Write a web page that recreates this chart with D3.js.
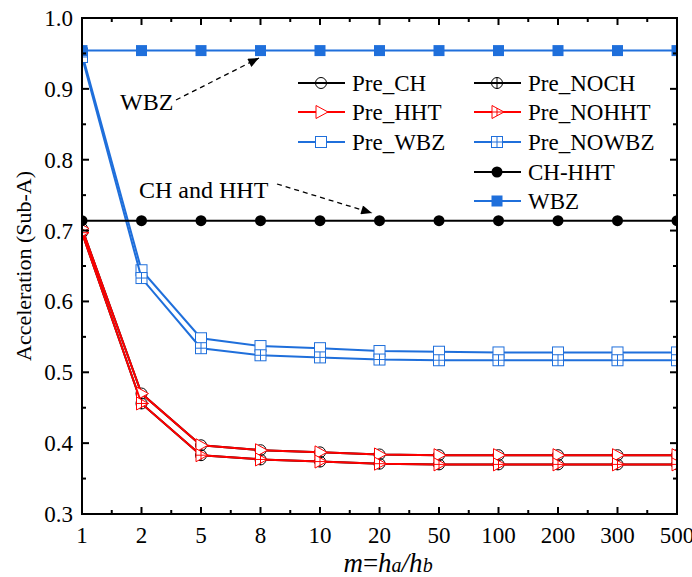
<!DOCTYPE html>
<html>
<head>
<meta charset="utf-8">
<script src="https://cdn.jsdelivr.net/npm/d3@7"></script>
<style>
  body { margin: 0; background: #fff; }
  text { font-family: "Liberation Serif", "Times New Roman", serif; }
</style>
</head>
<body>
<script>
// categories on the x axis (m = ha/hb), equally spaced
var categories = ["1", "2", "5", "8", "10", "20", "50", "100", "200", "300", "500"];

// series values
var preCH    = [0.703, 0.470, 0.397, 0.390, 0.387, 0.384, 0.383, 0.383, 0.383, 0.383, 0.383];
var preNOCH  = [0.697, 0.456, 0.383, 0.377, 0.374, 0.371, 0.370, 0.370, 0.370, 0.370, 0.370];
var preHHT   = [0.703, 0.470, 0.397, 0.390, 0.387, 0.384, 0.383, 0.383, 0.383, 0.383, 0.383];
var preNOHHT = [0.697, 0.456, 0.383, 0.377, 0.374, 0.371, 0.370, 0.370, 0.370, 0.370, 0.370];
var preWBZ   = [0.950, 0.644, 0.548, 0.537, 0.534, 0.530, 0.529, 0.528, 0.528, 0.528, 0.528];
var preNOWBZ = [0.945, 0.633, 0.534, 0.524, 0.521, 0.518, 0.517, 0.517, 0.517, 0.517, 0.517];
var chHHT    = [0.714, 0.714, 0.714, 0.714, 0.714, 0.714, 0.714, 0.714, 0.714, 0.714, 0.714];
var wbz      = [0.954, 0.954, 0.954, 0.954, 0.954, 0.954, 0.954, 0.954, 0.954, 0.954, 0.954];

var yTicks = [0.3, 0.4, 0.5, 0.6, 0.7, 0.8, 0.9, 1.0];
var yMinor = [0.35, 0.45, 0.55, 0.65, 0.75, 0.85, 0.95];

var red = "#ff0000",
    blue = "#1f6fdb",
    black = "#000000";

var width = 692, height = 577;
var pLeft = 82, pRight = 677, pTop = 18, pBottom = 514;

var svg = d3.select("body").append("svg")
    .attr("width", width)
    .attr("height", height);

var x = d3.scalePoint().domain(categories).range([pLeft, pRight]).padding(0);
var y = d3.scaleLinear().domain([0.3, 1.0]).range([pBottom, pTop]);

var defs = svg.append("defs");
defs.append("clipPath").attr("id", "plot")
    .append("rect")
    .attr("x", pLeft).attr("y", pTop)
    .attr("width", pRight - pLeft).attr("height", pBottom - pTop);

defs.append("marker")
    .attr("id", "arrow")
    .attr("viewBox", "0 0 12 10")
    .attr("refX", 12).attr("refY", 5)
    .attr("markerWidth", 13).attr("markerHeight", 9)
    .attr("markerUnits", "userSpaceOnUse")
    .attr("orient", "auto")
    .append("path")
    .attr("d", "M0,0 L12,5 L0,10 z")
    .attr("fill", black);

var plot = svg.append("g").attr("clip-path", "url(#plot)");

var line = d3.line()
    .x(function(d, i) { return x(categories[i]); })
    .y(function(d) { return y(d); });

// marker drawers
function circleOpen(g, cx, cy, color) {
    g.append("circle").attr("cx", cx).attr("cy", cy).attr("r", 5.5)
        .attr("fill", "none").attr("stroke", color).attr("stroke-width", 1);
}
function circlePlus(g, cx, cy, color) {
    circleOpen(g, cx, cy, color);
    g.append("path").attr("d", "M" + (cx - 5.5) + "," + cy + "h11M" + cx + "," + (cy - 5.5) + "v11")
        .attr("stroke", color).attr("stroke-width", 1);
}
function triOpen(g, cx, cy, color) {
    g.append("path").attr("d", "M" + (cx - 5) + "," + (cy - 6.5) + "L" + (cx + 7) + "," + cy + "L" + (cx - 5) + "," + (cy + 6.5) + "Z")
        .attr("fill", "#fff").attr("stroke", color).attr("stroke-width", 1);
}
function triPlus(g, cx, cy, color) {
    triOpen(g, cx, cy, color);
    g.append("path").attr("d", "M" + (cx - 5) + "," + cy + "h12M" + cx + "," + (cy - 4) + "v8")
        .attr("stroke", color).attr("stroke-width", 1);
}
function squareOpen(g, cx, cy, color) {
    g.append("rect").attr("x", cx - 5.5).attr("y", cy - 5.5).attr("width", 11).attr("height", 11)
        .attr("fill", "#fff").attr("stroke", color).attr("stroke-width", 1);
}
function squarePlus(g, cx, cy, color) {
    squareOpen(g, cx, cy, color);
    g.append("path").attr("d", "M" + (cx - 5.5) + "," + cy + "h11M" + cx + "," + (cy - 5.5) + "v11")
        .attr("stroke", color).attr("stroke-width", 1);
}
function circleFill(g, cx, cy, color) {
    g.append("circle").attr("cx", cx).attr("cy", cy).attr("r", 5.5).attr("fill", color);
}
function squareFill(g, cx, cy, color) {
    g.append("rect").attr("x", cx - 5.5).attr("y", cy - 5.5).attr("width", 11).attr("height", 11).attr("fill", color);
}

var series = [
    { name: "Pre_CH", values: preCH, color: black, mark: circleOpen, col: 0, row: 0 },
    { name: "Pre_NOCH", values: preNOCH, color: black, mark: circlePlus, col: 1, row: 0 },
    { name: "Pre_HHT", values: preHHT, color: red, mark: triOpen, col: 0, row: 1 },
    { name: "Pre_NOHHT", values: preNOHHT, color: red, mark: triPlus, col: 1, row: 1 },
    { name: "Pre_WBZ", values: preWBZ, color: blue, mark: squareOpen, col: 0, row: 2 },
    { name: "Pre_NOWBZ", values: preNOWBZ, color: blue, mark: squarePlus, col: 1, row: 2 },
    { name: "CH-HHT", values: chHHT, color: black, mark: circleFill, col: 1, row: 3 },
    { name: "WBZ", values: wbz, color: blue, mark: squareFill, col: 1, row: 4 }
];

series.forEach(function(s) {
    var g = plot.append("g");
    g.append("path")
        .datum(s.values)
        .attr("d", line)
        .attr("fill", "none")
        .attr("stroke", s.color)
        .attr("stroke-width", 2);
    s.values.forEach(function(v, i) {
        s.mark(g, x(categories[i]), y(v), s.color);
    });
});

// frame
svg.append("rect")
    .attr("x", pLeft).attr("y", pTop)
    .attr("width", pRight - pLeft).attr("height", pBottom - pTop)
    .attr("fill", "none").attr("stroke", black).attr("stroke-width", 2);

// ticks (inward, on all four sides)
var ticks = svg.append("g").attr("stroke", black).attr("stroke-width", 2);
var step = x.step();
categories.forEach(function(c, i) {
    var px = x(c);
    ticks.append("line").attr("x1", px).attr("x2", px).attr("y1", pBottom).attr("y2", pBottom - 7);
    ticks.append("line").attr("x1", px).attr("x2", px).attr("y1", pTop).attr("y2", pTop + 7);
    if (i < categories.length - 1) {
        var mx = px + step / 2;
        ticks.append("line").attr("x1", mx).attr("x2", mx).attr("y1", pBottom).attr("y2", pBottom - 4);
        ticks.append("line").attr("x1", mx).attr("x2", mx).attr("y1", pTop).attr("y2", pTop + 4);
    }
});
yTicks.forEach(function(t) {
    ticks.append("line").attr("x1", pLeft).attr("x2", pLeft + 7).attr("y1", y(t)).attr("y2", y(t));
    ticks.append("line").attr("x1", pRight).attr("x2", pRight - 7).attr("y1", y(t)).attr("y2", y(t));
});
yMinor.forEach(function(t) {
    ticks.append("line").attr("x1", pLeft).attr("x2", pLeft + 4).attr("y1", y(t)).attr("y2", y(t));
    ticks.append("line").attr("x1", pRight).attr("x2", pRight - 4).attr("y1", y(t)).attr("y2", y(t));
});

// tick labels
svg.append("g").selectAll("text")
    .data(categories)
    .enter().append("text")
    .attr("x", function(d) { return x(d); })
    .attr("y", 543)
    .attr("text-anchor", "middle")
    .attr("font-size", "23px")
    .text(function(d) { return d; });

svg.append("g").selectAll("text")
    .data(yTicks)
    .enter().append("text")
    .attr("x", 73)
    .attr("y", function(d) { return y(d) + 8; })
    .attr("text-anchor", "end")
    .attr("font-size", "23px")
    .text(function(d) { return d3.format(".1f")(d); });

// axis titles
svg.append("text")
    .attr("transform", "translate(31," + (pTop + pBottom) / 2 + ") rotate(-90)")
    .attr("text-anchor", "middle")
    .attr("font-size", "22px")
    .text("Acceleration (Sub-A)");

var xl = svg.append("text")
    .attr("x", 388).attr("y", 572)
    .attr("text-anchor", "middle")
    .attr("font-size", "27px")
    .attr("font-style", "italic");
xl.append("tspan").text("m");
xl.append("tspan").attr("font-style", "normal").text("=");
xl.append("tspan").text("h");
xl.append("tspan").attr("font-size", "20px").text("a");
xl.append("tspan").text("/h");
xl.append("tspan").attr("font-size", "20px").text("b");

// legend
var legend = svg.append("g");
var colX = [298, 474], rowY = [83, 112, 142, 172, 201];
series.forEach(function(s) {
    var lx = colX[s.col], ly = rowY[s.row];
    legend.append("line")
        .attr("x1", lx).attr("x2", lx + 47)
        .attr("y1", ly).attr("y2", ly)
        .attr("stroke", s.color).attr("stroke-width", 2);
    s.mark(legend, lx + 23, ly, s.color);
    legend.append("text")
        .attr("x", lx + 54).attr("y", ly + 8)
        .attr("font-size", "23px")
        .text(s.name);
});

// annotations
svg.append("text").attr("x", 120).attr("y", 110).attr("font-size", "24px").text("WBZ");
svg.append("line")
    .attr("x1", 176).attr("y1", 100).attr("x2", 259).attr("y2", 58)
    .attr("stroke", black).attr("stroke-width", 1.3)
    .attr("stroke-dasharray", "5,4")
    .attr("marker-end", "url(#arrow)");

svg.append("text").attr("x", 139).attr("y", 198).attr("font-size", "24px").text("CH and HHT");
svg.append("line")
    .attr("x1", 277).attr("y1", 184).attr("x2", 372).attr("y2", 213)
    .attr("stroke", black).attr("stroke-width", 1.3)
    .attr("stroke-dasharray", "5,4")
    .attr("marker-end", "url(#arrow)");
</script>
</body>
</html>
